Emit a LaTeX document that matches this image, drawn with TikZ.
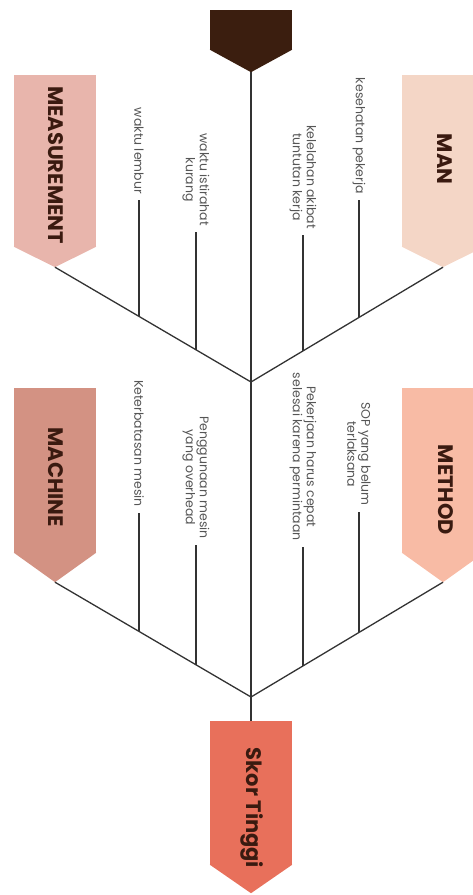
\documentclass[tikz,border=0pt]{standalone}
\usepackage{fontspec}
\setmainfont{Poppins}

\definecolor{headbrown}{HTML}{3B1E0F}
\definecolor{measpink}{HTML}{E8B5AC}
\definecolor{manpeach}{HTML}{F4D6C6}
\definecolor{machrose}{HTML}{D39283}
\definecolor{methsalmon}{HTML}{F8BBA5}
\definecolor{skorred}{HTML}{E8705B}
\definecolor{titlebrown}{HTML}{3A1A10}
\definecolor{causegray}{HTML}{555555}
\definecolor{bonegray}{HTML}{333333}

\tikzset{
  title/.style={rotate=-90, text=titlebrown, font=\fontsize{21}{21}\selectfont\bfseries, inner sep=0pt},
  cause/.style={rotate=-90, anchor=east, align=center, text=causegray,
    font=\fontsize{12.5}{14}\selectfont, inner xsep=6pt, inner ysep=0pt}
}

\begin{document}
\begin{tikzpicture}[x=1pt,y=-1pt]
\useasboundingbox (0,0) rectangle (473,895);
\clip (0,0) rectangle (473,895);

% boxes
\begin{scope}[every node/.style={minimum width=82pt, inner sep=0pt}]
	\node (head)[fill=headbrown, minimum height=40pt] at (251,30) {};
	\node (meas)[fill=measpink, minimum height=172pt] at (55,161) {};
	\node (man)[fill=manpeach, minimum height=172pt] at (443,161) {};
	\node (mach)[fill=machrose, minimum height=165pt] at (55,470.5) {};
	\node (meth)[fill=methsalmon, minimum height=165pt] at (443,470.5) {};
	\node (skor)[fill=skorred, minimum height=144pt] at (251,793) {};
\end{scope}

% pointed ends
\fill[headbrown] ([yshift=.5pt]head.south west) -- ([yshift=.5pt]head.south east) -- ([yshift=-22pt]head.south) -- cycle;
\fill[measpink] ([yshift=.5pt]meas.south west) -- ([yshift=.5pt]meas.south east) -- ([yshift=-20pt]meas.south) -- cycle;
\fill[manpeach] ([yshift=.5pt]man.south west) -- ([yshift=.5pt]man.south east) -- ([yshift=-20pt]man.south) -- cycle;
\fill[machrose] ([yshift=.5pt]mach.south west) -- ([yshift=.5pt]mach.south east) -- ([yshift=-29pt]mach.south) -- cycle;
\fill[methsalmon] ([yshift=.5pt]meth.south west) -- ([yshift=.5pt]meth.south east) -- ([yshift=-29pt]meth.south) -- cycle;
\fill[skorred] ([yshift=.5pt]skor.south west) -- ([yshift=.5pt]skor.south east) -- ([yshift=-28pt]skor.south) -- cycle;

\coordinate (head tip) at ([yshift=-22pt]head.south);
\coordinate (meas tip) at ([yshift=-20pt]meas.south);
\coordinate (man tip) at ([yshift=-20pt]man.south);
\coordinate (mach tip) at ([yshift=-29pt]mach.south);
\coordinate (meth tip) at ([yshift=-29pt]meth.south);
\coordinate (upper) at (251,382);
\coordinate (lower) at (251,697);

% titles
\node (meas title)[title] at (56,165) {MEASUREMENT};
\node (man title)[title] at (445,159) {MAN};
\node (mach title)[title] at (56,477) {MACHINE};
\node (meth title)[title] at (446,490) {METHOD};
\node (skor title)[title] at (252,808) {Skor Tinggi};

% points on the bones
\path (meas tip) -- (upper) coordinate[pos=.4286] (m1) coordinate[pos=.7194] (m2);
\path (man tip) -- (upper) coordinate[pos=.4375] (n1) coordinate[pos=.7292] (n2);
\path (mach tip) -- (lower) coordinate[pos=.4286] (c1) coordinate[pos=.7194] (c2);
\path (meth tip) -- (lower) coordinate[pos=.4375] (d1) coordinate[pos=.7292] (d2);

% causes
\node (lembur)[cause] at (m1 |- 0,200) {waktu lembur};
\node (istirahat)[cause] at (m2 |- 0,232) {waktu istirahat\\kurang};
\node (kesehatan)[cause] at (n1 |- 0,200) {kesehatan pekerja};
\node (kelelahan)[cause] at (n2 |- 0,235) {kelelahan akibat\\tuntutan kerja};
\node (keterbatasan)[cause] at (c1 |- 0,513) {Keterbatasan mesin};
\node (penggunaan)[cause] at (c2 |- 0,545) {Penggunaan mesin\\yang overhead};
\node (sop)[cause] at (d1 |- 0,512) {SOP yang belum\\terlaksana};
\node (pekerjaan)[cause] at (d2 |- 0,547) {Pekerjaan harus cepat\\selesai karena permintaan};

\begin{scope}[every edge/.style={draw, bonegray, line width=1.3pt}]
	\path [-] (head tip) edge (upper);
	\path [-] (upper) edge (lower);
	\path [-] (lower) edge (skor);
	\path [-] (meas tip) edge (upper);
	\path [-] (man tip) edge (upper);
	\path [-] (mach tip) edge (lower);
	\path [-] (meth tip) edge (lower);

	\path [-] (lembur) edge (m1);
	\path [-] (istirahat) edge (m2);
	\path [-] (kesehatan) edge (n1);
	\path [-] (kelelahan) edge (n2);
	\path [-] (keterbatasan) edge (c1);
	\path [-] (penggunaan) edge (c2);
	\path [-] (sop) edge (d1);
	\path [-] (pekerjaan) edge (d2);
\end{scope}
\end{tikzpicture}
\end{document}
